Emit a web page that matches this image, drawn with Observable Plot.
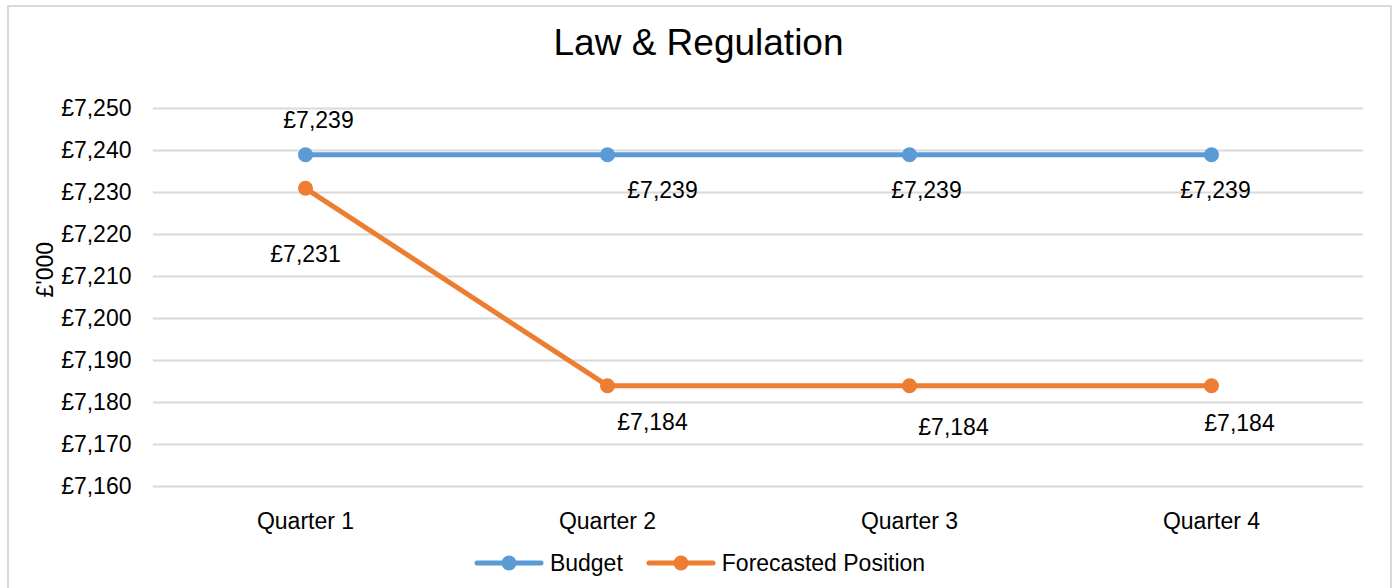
<!DOCTYPE html>
<html>
<head>
<meta charset="utf-8">
<script src="https://cdn.jsdelivr.net/npm/d3@7"></script>
<script src="https://cdn.jsdelivr.net/npm/@observablehq/plot@0.6"></script>
<style>
  body { margin: 0; background: #fff; font-family: "Liberation Sans", Arial, sans-serif; }
  #wrap { position: relative; width: 1394px; height: 588px; overflow: hidden; background: #fff; }
  #border { position: absolute; left: 7px; top: 5px; width: 1385px; height: 640px; border: 2px solid #d9d9d9; box-sizing: border-box; }
  #chart { position: absolute; left: 0; top: 0; }
  #legend { position: absolute; left: 0; top: 550px; width: 1399px; height: 26px; display: flex; justify-content: center; align-items: center; font-size: 23px; color: #000; }
  .item { display: flex; align-items: center; }
  .item svg { display: block; margin-right: 6px; }
  .item + .item { margin-left: 23px; }
</style>
</head>
<body>
<div id="wrap">
  <div id="border"></div>
  <div id="chart"></div>
  <div id="legend"></div>
</div>
<script>
// ---- data ----
const title = "Law & Regulation";
const yLabel = "£'000";
const quarters = ["Quarter 1", "Quarter 2", "Quarter 3", "Quarter 4"];
const seriesNames = ["Budget", "Forecasted Position"];
const budget = [7239, 7239, 7239, 7239];
const forecast = [7231, 7184, 7184, 7184];
const yTicks = [7160, 7170, 7180, 7190, 7200, 7210, 7220, 7230, 7240, 7250];

// ---- styling (label placement offsets, colours) ----
const colors = ["#5B9BD5", "#ED7D31"];
const budgetLabelDx = [13, 55, 17, 4];
const budgetLabelDy = [-34, 36, 36, 36];
const forecastLabelDx = [0, 45, 44, 28];
const forecastLabelDy = [66, 37, 42, 38];

const fmt = d => "£" + d3.format(",")(d);
const budgetData = quarters.map((q, i) => ({q, v: budget[i]}));
const forecastData = quarters.map((q, i) => ({q, v: forecast[i]}));

const labelMarks = [];
budgetData.forEach((d, i) => {
  labelMarks.push(Plot.text([d], {x: "q", y: "v", text: d => fmt(d.v), dx: budgetLabelDx[i], dy: budgetLabelDy[i], fontSize: 23, fill: "#000", lineAnchor: "middle"}));
});
forecastData.forEach((d, i) => {
  labelMarks.push(Plot.text([d], {x: "q", y: "v", text: d => fmt(d.v), dx: forecastLabelDx[i], dy: forecastLabelDy[i], fontSize: 23, fill: "#000", lineAnchor: "middle"}));
});

const chart = Plot.plot({
  width: 1394,
  height: 540,
  marginLeft: 153,
  marginRight: 31,
  marginTop: 108,
  marginBottom: 54,
  style: {fontFamily: "'Liberation Sans', Arial, sans-serif", fontSize: "23px", color: "#000", background: "transparent", overflow: "visible"},
  x: {type: "point", domain: quarters, padding: 0.5},
  y: {domain: [7160, 7250]},
  marks: [
    Plot.ruleY(yTicks, {stroke: "#d9d9d9", strokeWidth: 2}),
    Plot.axisY({ticks: yTicks, tickSize: 0, tickPadding: 22, tickFormat: fmt, label: null, fontSize: 23}),
    Plot.axisX({tickSize: 0, tickPadding: 26, label: null, fontSize: 23}),
    Plot.line(budgetData, {x: "q", y: "v", stroke: colors[0], strokeWidth: 5, strokeLinecap: "round"}),
    Plot.dot(budgetData, {x: "q", y: "v", r: 7.5, fill: colors[0], stroke: "none"}),
    Plot.line(forecastData, {x: "q", y: "v", stroke: colors[1], strokeWidth: 5, strokeLinecap: "round"}),
    Plot.dot(forecastData, {x: "q", y: "v", r: 7.5, fill: colors[1], stroke: "none"}),
    ...labelMarks,
    Plot.text([title], {frameAnchor: "top", lineAnchor: "middle", dx: -60, dy: -65, fontSize: 37, fill: "#000"}),
    Plot.text([yLabel], {frameAnchor: "left", lineAnchor: "middle", rotate: -90, dx: -108, fontSize: 23, fill: "#000"})
  ]
});
document.getElementById("chart").appendChild(chart);

// ---- legend ----
const legend = document.getElementById("legend");
seriesNames.forEach((name, i) => {
  const item = document.createElement("div");
  item.className = "item";
  item.innerHTML = `<svg width="70" height="20"><line x1="3" y1="10" x2="67" y2="10" stroke="${colors[i]}" stroke-width="5" stroke-linecap="round"/><circle cx="35" cy="10" r="7.5" fill="${colors[i]}"/></svg><span>${name}</span>`;
  legend.appendChild(item);
});
</script>
</body>
</html>
